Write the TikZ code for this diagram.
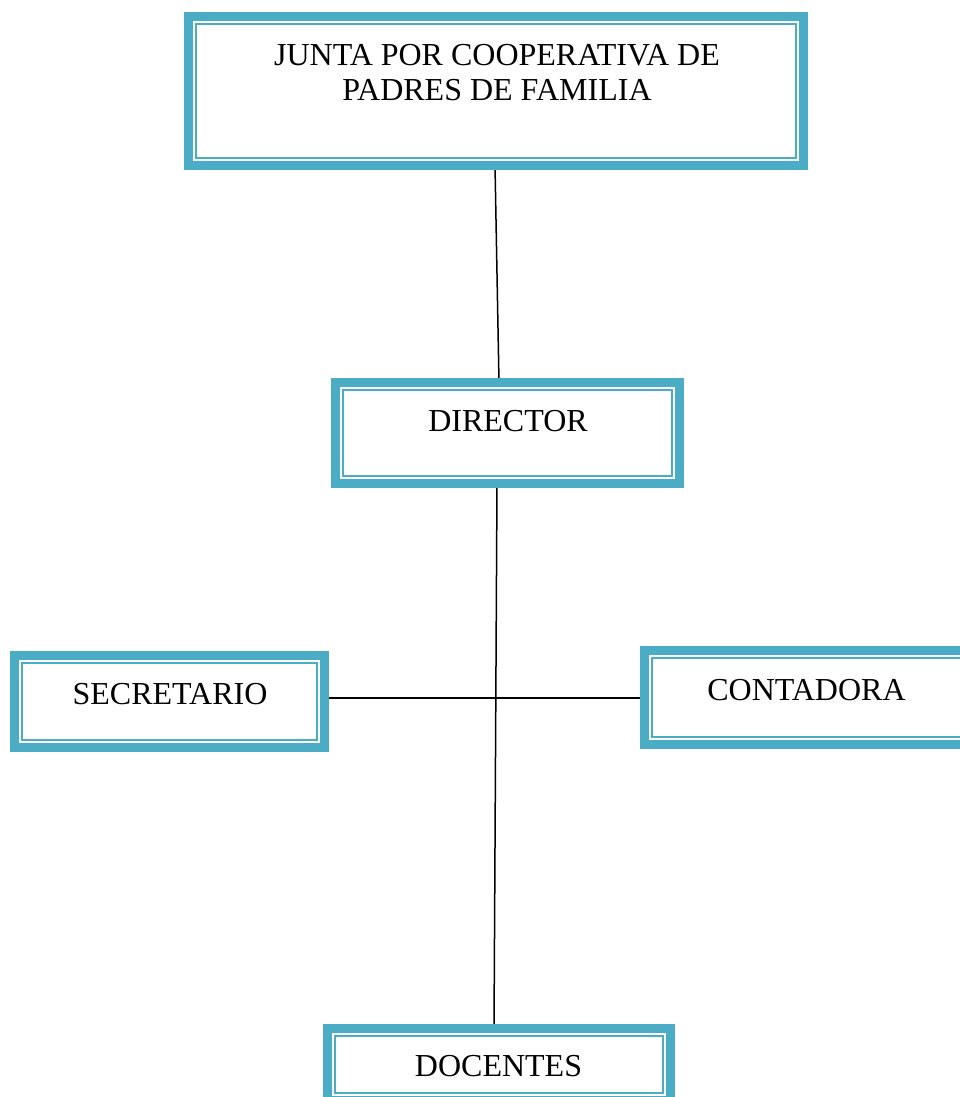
\documentclass[tikz,border=0pt]{standalone}
\usepackage{fontspec}
\setmainfont{Liberation Serif}
\definecolor{accent}{HTML}{4BACC6}
\begin{document}
\begin{tikzpicture}[x=1pt,y=-1pt,
  box/.style={draw=accent, line width=9pt, fill=white, inner sep=0pt, outer sep=0pt},
  innerline/.style={draw=accent, line width=2pt},
  lbl/.style={anchor=base, inner sep=0pt, font=\fontsize{32}{35}\selectfont},
  conn/.style={draw=black, line width=1.5pt}]
\useasboundingbox (0,0) rectangle (959,1097);
\path
  node[box, minimum width=615pt, minimum height=149pt] (junta) at (496,91) {}
  node[box, minimum width=344pt, minimum height=101pt] (dir) at (507.5,433) {}
  node[box, minimum width=310pt, minimum height=92pt] (sec) at (169.5,701.5) {}
  node[box, minimum width=336pt, minimum height=94pt] (cont) at (812.5,697.5) {}
  node[box, minimum width=343pt, minimum height=72pt] (doc) at (499,1064.5) {};
% connectors
\draw[conn] ([xshift=-1pt]junta.south) -- ([xshift=-8.5pt]dir.north);
\draw[conn] ([xshift=-10.5pt]dir.south) -- ([xshift=-5pt]doc.north);
\draw[conn] ([yshift=3.5pt]sec.east) -- ([yshift=-0.5pt]cont.west);
% boxes on top
\foreach \n in {junta,dir,sec,cont,doc}{
  \draw[draw=accent, line width=9pt, fill=white] (\n.north west) rectangle (\n.south east);
  \draw[innerline] ([xshift=7.5pt,yshift=-7.5pt]\n.north west) rectangle ([xshift=-7.5pt,yshift=7.5pt]\n.south east);
}
% labels
\node[lbl] (t1) at (497,66) {JUNTA POR COOPERATIVA DE};
\node[lbl] (t2) at (497,101) {PADRES DE FAMILIA};
\node[lbl] (t3) at (508,431) {DIRECTOR};
\node[lbl] (t4) at (170,704) {SECRETARIO};
\node[lbl] (t5) at (806.5,700) {CONTADORA};
\node[lbl] (t6) at (498.5,1076) {DOCENTES};
\end{tikzpicture}
\end{document}
